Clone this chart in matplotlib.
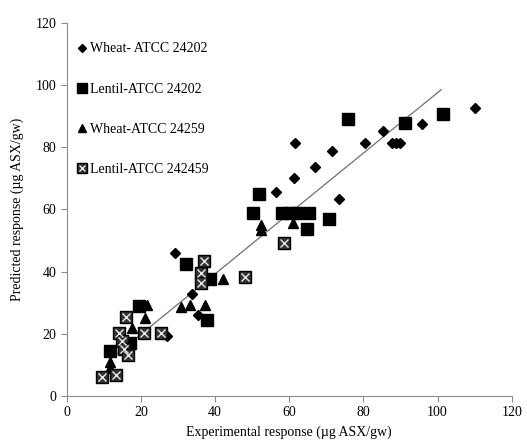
import matplotlib
matplotlib.use("Agg")
import matplotlib.pyplot as plt
from matplotlib.lines import Line2D
from matplotlib.legend_handler import HandlerTuple
import numpy as np

plt.rcParams['font.family'] = ['Liberation Serif', 'DejaVu Serif']

# Wheat-ATCC 24202 (diamonds)
wheat_02_x = [110.1, 95.7, 85.4, 87.6, 88.8, 90.0, 80.4, 71.5, 67.0, 61.6, 61.3, 56.4,
              73.3, 29.2, 33.8, 35.3, 27.0]
wheat_02_y = [92.5, 87.4, 85.3, 81.2, 81.2, 81.2, 81.2, 78.9, 73.7, 81.2, 70.1, 65.6,
              63.3, 46.1, 32.8, 26.0, 19.3]

# Lentil-ATCC 24202 (squares)
lentil_02_x = [101.4, 91.2, 75.9, 51.9, 50.1, 58.0, 60.2, 62.2, 65.4, 70.7, 64.9,
               32.1, 38.6, 37.8, 19.6, 17.1, 11.7]
lentil_02_y = [90.7, 87.6, 89.0, 65.0, 58.8, 58.8, 58.8, 58.8, 58.8, 56.9, 53.8,
               42.3, 37.5, 24.4, 28.9, 16.9, 14.6]

# Wheat-ATCC 24259 (triangles)
wheat_59_x = [52.3, 52.3, 60.9, 42.2, 30.7, 33.2, 37.3, 21.7, 21.1, 17.5, 11.7, 11.7]
wheat_59_y = [55.0, 53.4, 55.7, 37.5, 28.5, 29.3, 29.4, 29.3, 25.0, 22.0, 11.0, 8.9]

# Lentil-ATCC 242459 (crossed squares)
lentil_59_x = [58.6, 48.2, 37.1, 36.1, 36.1, 16.0, 20.8, 25.4, 14.2, 15.0, 15.5, 16.5,
               9.4, 13.3]
lentil_59_y = [49.2, 38.2, 43.4, 39.6, 36.2, 25.3, 20.2, 20.4, 20.2, 17.6, 15.0, 13.3,
               6.2, 6.8]

# trend line
fit_slope = 0.971
fit_intercept = 0.4
fit_x = [12.0, 101.0]

labels = ["Wheat- ATCC 24202", "Lentil-ATCC 24202", "Wheat-ATCC 24259", "Lentil-ATCC 242459"]

fig = plt.figure(figsize=(5.27, 4.44), dpi=100)
ax = fig.add_axes([0.1266, 0.108, 0.8444, 0.841])

fx = np.array(fit_x)
ax.plot(fx, fit_slope * fx + fit_intercept, color="#707070", lw=0.9, zorder=1)

ax.plot(wheat_02_x, wheat_02_y, ls="none", marker="D", ms=5.5, color="black", zorder=3)
ax.plot(lentil_02_x, lentil_02_y, ls="none", marker="s", ms=8, color="black", zorder=3)
ax.plot(wheat_59_x, wheat_59_y, ls="none", marker="^", ms=7, color="black", zorder=3)
ax.plot(lentil_59_x, lentil_59_y, ls="none", marker="s", ms=8, mfc="#333333",
        mec="black", mew=1.0, zorder=3)
ax.plot(lentil_59_x, lentil_59_y, ls="none", marker="x", ms=5.5, mec="#e8e8e8",
        mew=1.0, zorder=4)

h1 = Line2D([], [], ls="none", marker="D", ms=4.5, color="black")
h2 = Line2D([], [], ls="none", marker="s", ms=6.5, color="black")
h3 = Line2D([], [], ls="none", marker="^", ms=6, color="black")
h4a = Line2D([], [], ls="none", marker="s", ms=6.5, mfc="#333333", mec="black")
h4b = Line2D([], [], ls="none", marker="x", ms=4.5, mec="#e8e8e8", mew=1.0)
ax.legend([h1, h2, h3, (h4a, h4b)], labels, loc="upper left", frameon=False,
          handler_map={tuple: HandlerTuple(ndivide=1, pad=0)},
          fontsize=10, labelspacing=1.95, handlelength=0.6, handletextpad=0.3,
          borderaxespad=0.3, bbox_to_anchor=(0.003, 0.973))

ax.set_xlim(0, 120)
ax.set_ylim(0, 120)
ax.set_xticks(np.arange(0, 121, 20))
ax.set_yticks(np.arange(0, 121, 20))
ax.spines[['right', 'top']].set_visible(False)
for s in ['left', 'bottom']:
    ax.spines[s].set_color("#8c8c8c")
ax.tick_params(direction="out", length=4, color="#8c8c8c", labelsize=10)
ax.set_xlabel("Experimental response (\u00b5g ASX/gw)", fontsize=10, labelpad=4)
ax.set_ylabel("Predicted response (\u00b5g ASX/gw)", fontsize=10, labelpad=8)

fig.savefig("out.png", dpi=100)
